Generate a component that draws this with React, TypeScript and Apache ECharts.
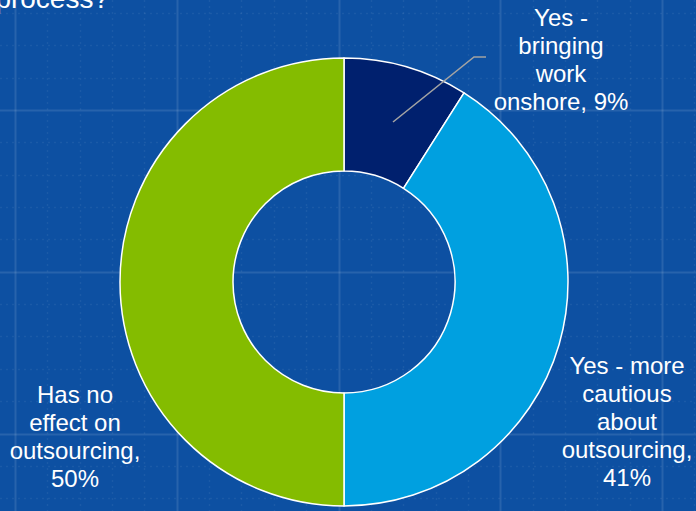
import React, { useEffect, useRef } from "react";
import * as echarts from "echarts";

const categories = [
  "Yes -\nbringing\nwork\nonshore",
  "Yes - more\ncautious\nabout\noutsourcing",
  "Has no\neffect on\noutsourcing",
];
const values = [9, 41, 50];
const valueSeparators = [" ", "\n", "\n"];
const colors = ["#00206E", "#00A0E0", "#84BC00"];
const labelCenters = [
  [561, 59],
  [627, 421],
  [75, 436],
];
const titleText = "process?";

const W = 696;
const H = 511;

function gridGraphics() {
  const els: any[] = [];
  const step = 32.35;
  const x0 = 15;
  const y0 = 110 - 3 * step;
  for (let i = 0; x0 + i * step < W + 1; i++) {
    const x = Math.round(x0 + i * step) + 0.5;
    const major = i % 5 === 0;
    els.push({
      type: "line",
      silent: true,
      z: -10,
      shape: { x1: x, y1: 0, x2: x, y2: H },
      style: major
        ? { stroke: "rgba(255,255,255,0.11)", lineWidth: 2 }
        : { stroke: "rgba(255,255,255,0.06)", lineWidth: 1.5, lineDash: [2, 4] },
    });
  }
  for (let j = 0; y0 + j * step < H + 1; j++) {
    const y = Math.round(y0 + j * step) + 0.5;
    const major = j % 5 === 3;
    els.push({
      type: "line",
      silent: true,
      z: -10,
      shape: { x1: 0, y1: y, x2: W, y2: y },
      style: major
        ? { stroke: "rgba(255,255,255,0.11)", lineWidth: 2 }
        : { stroke: "rgba(255,255,255,0.06)", lineWidth: 1.5, lineDash: [2, 4] },
    });
  }
  return els;
}

export default function App() {
  const ref = useRef<HTMLDivElement>(null);
  useEffect(() => {
    if (!ref.current) return;
    const chart = echarts.init(ref.current, undefined, { renderer: "svg" });
    chart.setOption({
      animation: false,
      backgroundColor: "#0D50A2",
      graphic: [
        ...gridGraphics(),
        {
          type: "text",
          x: 109,
          y: 12,
          z: 10,
          style: {
            text: titleText,
            fill: "#FFFFFF",
            font: '28px "Liberation Sans", Arial, sans-serif',
            align: "right",
            verticalAlign: "bottom",
          },
        },
        {
          type: "polyline",
          z: 100,
          shape: {
            points: [
              [393, 122],
              [474, 57],
              [486, 57],
            ],
          },
          style: { stroke: "#A3A3A3", lineWidth: 1.6, fill: null },
        },
      ],
      series: [
        {
          type: "pie",
          center: [344, 282],
          radius: [111, 224],
          startAngle: 90,
          clockwise: true,
          silent: true,
          z: 2,
          itemStyle: { borderColor: "#FFFFFF", borderWidth: 1.5 },
          label: {
            show: true,
            position: "outside",
            color: "#FFFFFF",
            fontSize: 24,
            lineHeight: 28,
            fontFamily: '"Liberation Sans", Arial, sans-serif',
            align: "center",
            width: 220,
            overflow: "none",
            formatter: (p: any) =>
              `${p.name},${valueSeparators[p.dataIndex]}${p.value}%`,
          },
          labelLine: { show: false },
          labelLayout: (params: any) => {
            const c = labelCenters[params.dataIndex];
            return {
              x: c[0],
              y: c[1],
              align: "center",
              verticalAlign: "middle",
            };
          },
          data: categories.map((name, i) => ({
            name,
            value: values[i],
            itemStyle: { color: colors[i] },
          })),
        },
      ],
    });
    return () => chart.dispose();
  }, []);
  return (
    <div
      ref={ref}
      style={{ position: "fixed", left: 0, top: 0, width: W, height: H }}
    />
  );
}
